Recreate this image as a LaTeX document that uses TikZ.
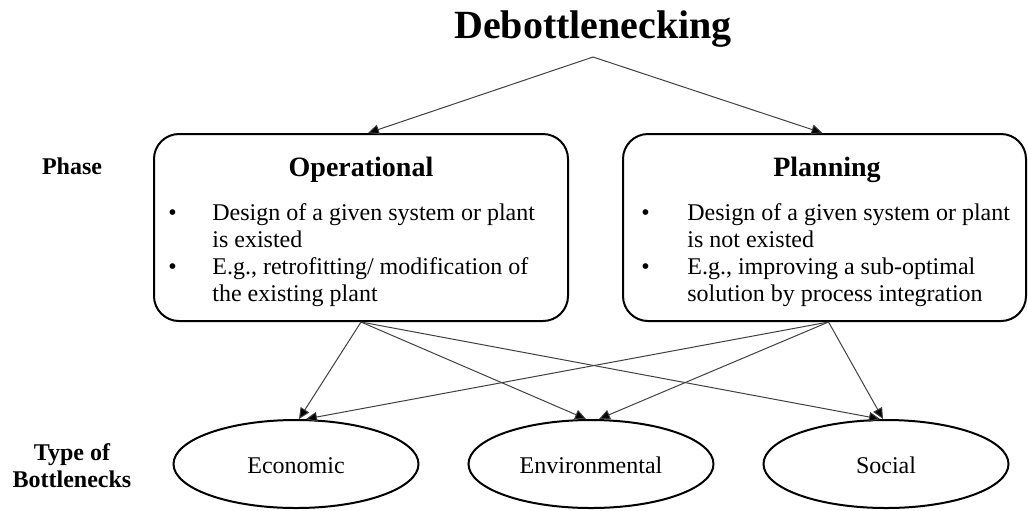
\documentclass[tikz,border=0pt]{standalone}
\usepackage{fontspec}
\setmainfont{Liberation Serif}
\usetikzlibrary{arrows.meta, positioning, shapes.geometric}

\tikzset{
  phasebox/.style={draw, line width=1pt, rounded corners=12.5pt, minimum height=93.5pt, inner sep=0pt},
  typeell/.style={draw, ellipse, line width=1pt, minimum width=122.5pt, minimum height=44pt, inner sep=0pt, text height=10pt, text depth=1pt, font=\fontsize{12}{14}\selectfont},
  link/.style={draw=black!75, line width=0.5pt, -{Triangle[length=5.5pt,width=5pt,fill=black]}},
  sidelabel/.style={font=\fontsize{12}{13.5}\selectfont\bfseries, align=center},
  boxhead/.style={font=\fontsize{14}{16}\selectfont\bfseries},
  bullets/.style={anchor=north west, inner sep=0pt, font=\fontsize{12}{13.5}\selectfont},
}

\begin{document}
\begin{tikzpicture}[x=0.5pt, y=-0.5pt]
  \useasboundingbox (0,0) rectangle (1028,510);

  % title
  \node[font=\fontsize{20}{24}\selectfont\bfseries] (title) at (593,29.5) {Debottlenecking};
  \coordinate (split) at (593,57);

  % phases
  \node[phasebox, minimum width=207pt] (op) at (361,227.5) {};
  \node[phasebox, minimum width=201.5pt] (pl) at (824.5,227.5) {};
  \node[boxhead] (ophead) at (361,170) {Operational};
  \node[boxhead] (plhead) at (827,170) {Planning};
  \node[bullets] (oplist) at (168,201) {%
    \begin{tabular}{@{}p{22pt}@{}l@{}}
      \textbullet & Design of a given system or plant\\
                  & is existed\\
      \textbullet & E.g., retrofitting/ modification of\\
                  & the existing plant
    \end{tabular}};
  \node[bullets] (pllist) at (641,201) {%
    \begin{tabular}{@{}p{23pt}@{}l@{}}
      \textbullet & Design of a given system or plant\\
                  & is not existed\\
      \textbullet & E.g., improving a sub-optimal\\
                  & solution by process integration
    \end{tabular}};

  % bottleneck types
  \node[typeell] (eco) at (296,464) {Economic};
  \node[typeell] (env) at (591,464) {Environmental};
  \node[typeell] (soc) at (886,464) {Social};

  % side labels
  \node[sidelabel] (phase) at (72,166) {Phase};
  \node[sidelabel] (types) at (72,466) {Type of\\Bottlenecks};

  % connectors
  \draw[link] (split) -- ([xshift=3.5pt]op.north);
  \draw[link] (split) -- ([xshift=-1pt]pl.north);
  \draw[link] (op.south) -- ([xshift=1.5pt]eco.north);
  \draw[link] (op.south) -- ([xshift=-2.5pt]env.north);
  \draw[link] (op.south) -- ([xshift=-3pt]soc.north);
  \draw[link] ([xshift=2pt]pl.south) -- ([xshift=5pt]eco.north);
  \draw[link] ([xshift=2pt]pl.south) -- ([xshift=4pt]env.north);
  \draw[link] ([xshift=2pt]pl.south) -- ([xshift=-1.5pt]soc.north);
\end{tikzpicture}
\end{document}
